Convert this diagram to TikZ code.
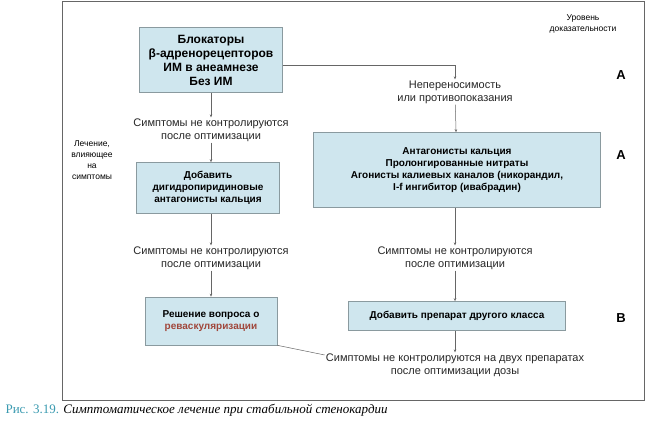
\documentclass[tikz,border=0pt]{standalone}
\usepackage{fontspec}
\setmainfont{Liberation Sans}
\newfontfamily\capfont{Liberation Serif}
\usetikzlibrary{arrows.meta}
\definecolor{boxfill}{HTML}{CFE6EE}
\definecolor{boxline}{HTML}{8A9A9F}
\definecolor{capblue}{HTML}{3A9AB0}
\definecolor{revred}{HTML}{A0463A}
\begin{document}
\begin{tikzpicture}[x=1pt,y=-1pt,
  bx/.style={draw=boxline,fill=boxfill,line width=0.6pt,align=center,font=\bfseries\fontsize{10}{12}\selectfont,inner sep=0pt},
  lbl/.style={align=center,font=\fontsize{11}{13}\selectfont,text=black!85,inner sep=1pt},
  arr/.style={draw=black!60,line width=0.5pt,-{Stealth[length=3pt,width=2.5pt]}},
  lv/.style={font=\bfseries\fontsize{13}{14}\selectfont}]
\useasboundingbox (0,0) rectangle (650,420);
\draw[black!60,line width=0.8pt] (62,1) rectangle (644,400);
\node[bx,minimum width=143,minimum height=65,font=\bfseries\fontsize{12}{14}\selectfont] (bb) at (211,60) {Блокаторы\\β-адренорецепторов\\ИМ в анеамнезе\\Без ИМ};
\node[lbl] (s1) at (211,130) {Симптомы не контролируются\\после оптимизации};
\node[bx,minimum width=143,minimum height=51] (dh) at (208,188) {Добавить\\дигидропиридиновые\\антагонисты кальция};
\node[lbl] (s2) at (211,258) {Симптомы не контролируются\\после оптимизации};
\node[bx,minimum width=132,minimum height=48] (rv) at (211,321) {Решение вопроса о\\\textcolor{revred}{реваскуляризации}};
\node[lbl] (nep) at (455,92) {Непереносимость\\или противопоказания};
\node[bx,minimum width=287,minimum height=75] (ca) at (457,170) {Антагонисты кальция\\Пролонгированные нитраты\\Агонисты калиевых каналов (никорандил,\\I-f ингибитор (ивабрадин)};
\node[lbl] (s3) at (455,258) {Симптомы не контролируются\\после оптимизации};
\node[bx,minimum width=217,minimum height=29] (ad) at (457,316) {Добавить препарат другого класса};
\node[lbl] (s4) at (455,365) {Симптомы не контролируются на двух препаратах\\после оптимизации дозы};
\node[align=center,font=\fontsize{8.5}{11}\selectfont] (lt) at (92,160) {Лечение,\\влияющее\\на\\симптомы};
\node[align=center,font=\fontsize{8.5}{11}\selectfont] (ur) at (583,24) {Уровень\\доказательности};
\node[lv] (la1) at (621,75) {A};
\node[lv] (la2) at (621,155) {A};
\node[lv] (lb) at (621,318) {B};
\node[anchor=west,font=\capfont\fontsize{13}{14}\selectfont] (cap) at (2,410) {\textcolor{capblue}{Рис. 3.19.} \textit{Симптоматическое лечение при стабильной стенокардии}};
\draw[arr] (bb) -- (s1);
\draw[arr] (s1) -- (s1 |- dh.north);
\draw[arr] (dh.south -| s2) -- (s2);
\draw[arr] (s2) -- (rv);
\draw[arr] (bb.east |- 0,65) -| (nep.north);
\draw[arr] (nep) -- (ca);
\draw[arr] (ca.south -| s3) -- (s3);
\draw[arr] (s3) -- (s3 |- ad.north);
\draw[arr] (ad.south -| s4) -- (s4);
\draw[black!60,line width=0.5pt] (s4.west |- 0,355) -- (rv.south east);
\end{tikzpicture}
\end{document}
